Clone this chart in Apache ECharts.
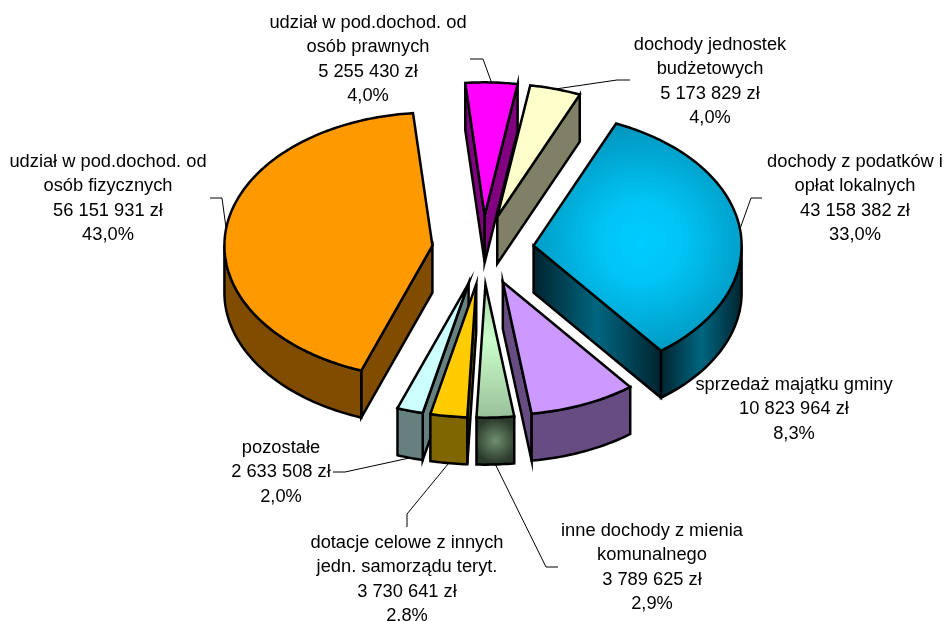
<!DOCTYPE html>
<html>
<head>
<meta charset="utf-8">
<style>
  html, body { margin: 0; padding: 0; background: #fff; overflow: hidden; }
  #chart { width: 944px; height: 621px; }
</style>
<script src="https://cdn.jsdelivr.net/npm/echarts@6/dist/echarts.min.js"></script>
</head>
<body>
<div id="chart"></div>
<script>
// slices, clockwise from the start angle
const names = [
  'udział w pod.dochod. od\nosób fizycznych',
  'udział w pod.dochod. od\nosób prawnych',
  'dochody jednostek\nbudżetowych',
  'dochody z podatków i\nopłat lokalnych',
  'sprzedaż majątku gminy',
  'inne dochody z mienia\nkomunalnego',
  'dotacje celowe z innych\njedn. samorządu teryt.',
  'pozostałe'
];
const values = [56151931, 5255430, 5173829, 43158382, 10823964, 3789625, 3730641, 2633508];
const percents = ['43,0%', '4,0%', '4,0%', '33,0%', '8,3%', '2,9%', '2,8%', '2,0%'];

const topColors = ['#ff9900', '#ff00ff', '#ffffcc', '#00ccff', '#cc99ff', '#ccffcc', '#ffcc00', '#ccffff'];
const sideColors = ['#804c00', '#800080', '#808066', '#006680', '#664c80', '#668066', '#806600', '#668080'];

// pie geometry
const cx = 483, cy = 250, rx = 208, ry = 133, depth = 47, explode = 51, explodeTilt = 0.68;
const startAngle = 200;
const drawOrder = [1, 2, 0, 3, 4, 7, 6, 5];

// label anchors: text centre + top, then the bend points of the leader line
const labelPos = [
  { x: 108, y: 150, line: [[222, 198], [210, 198]] },
  { x: 368, y: 11, line: [[483, 59], [470, 59]] },
  { x: 710, y: 33, line: [[617, 80], [630, 80]] },
  { x: 855, y: 150, line: [[751, 198], [762, 198]] },
  { x: 794, y: 373, line: null },
  { x: 652, y: 519, line: [[546, 567], [558, 567]] },
  { x: 407, y: 531, line: [[407, 514], [407, 527]] },
  { x: 281, y: 436, line: [[345, 472], [333, 472]] }
];

const total = values.reduce((a, b) => a + b, 0);
const rad = d => d * Math.PI / 180;

// each slice's angular span and exploded apex
let acc = startAngle;
const slices = values.map(v => {
  const a0 = acc, a1 = acc + v / total * 360;
  acc = a1;
  const mid = (a0 + a1) / 2;
  return {
    a0, a1, mid,
    ox: cx + explode * Math.sin(rad(mid)),
    oy: cy - explode * Math.cos(rad(mid)) * explodeTilt
  };
});

function rim(s, a) {
  return [s.ox + rx * Math.sin(rad(a)), s.oy - ry * Math.cos(rad(a))];
}

function arcPoints(s, a0, a1) {
  const pts = [];
  const n = Math.max(2, Math.ceil(a1 - a0));
  for (let i = 0; i <= n; i++) pts.push(rim(s, a0 + (a1 - a0) * i / n));
  return pts;
}

function wallFill(i) {
  if (i === 3) {
    return new echarts.graphic.LinearGradient(0, 0, 1, 0, [
      { offset: 0, color: '#00222d' },
      { offset: 0.5, color: '#006680' },
      { offset: 1, color: '#00222d' }
    ]);
  }
  if (i === 5) {
    return new echarts.graphic.RadialGradient(0.5, 0.5, 0.55, [
      { offset: 0, color: '#6f8f6f' },
      { offset: 1, color: '#2b3a2b' }
    ]);
  }
  return sideColors[i];
}

function topFill(i) {
  if (i === 3) {
    return new echarts.graphic.RadialGradient(0.52, 0.52, 0.56, [
      { offset: 0, color: '#00ccff' },
      { offset: 0.35, color: '#00c4f5' },
      { offset: 1, color: '#0096bd' }
    ]);
  }
  if (i === 5) {
    return new echarts.graphic.LinearGradient(0, 0, 0, 1, [
      { offset: 0, color: '#a6cfa6' },
      { offset: 0.4, color: '#ccffcc' },
      { offset: 1, color: '#98bf98' }
    ]);
  }
  return topColors[i];
}

const lineStyle = { stroke: '#000', lineWidth: 2.5, lineJoin: 'miter', miterLimit: 12 };

function drop(pts) {
  return pts.concat(pts.slice().reverse().map(p => [p[0], p[1] + depth]));
}

function renderSlice(params, api) {
  const i = api.value(0);
  const s = slices[i];
  const apex = [s.ox, s.oy];
  const p0 = rim(s, s.a0), p1 = rim(s, s.a1);
  const children = [];
  const wall = pts => children.push({
    type: 'polygon',
    shape: { points: drop(pts) },
    style: Object.assign({ fill: wallFill(i) }, lineStyle)
  });

  // only the walls facing the viewer
  if (p0[0] < apex[0]) wall([apex, p0]);
  if (p1[0] > apex[0]) wall([p1, apex]);
  for (const turn of [0, 360]) {
    const from = Math.max(s.a0, 90 + turn), to = Math.min(s.a1, 270 + turn);
    if (to > from) wall(arcPoints(s, from, to));
  }

  children.push({
    type: 'polygon',
    shape: { points: [apex].concat(arcPoints(s, s.a0, s.a1)) },
    style: Object.assign({ fill: topFill(i) }, lineStyle)
  });
  return { type: 'group', children };
}

function formatValue(v) {
  return String(v).replace(/\B(?=(\d{3})+$)/g, ' ') + ' zł';
}

function renderLabel(params, api) {
  const i = api.value(0);
  const s = slices[i];
  const pos = labelPos[i];
  const children = [];
  if (pos.line) {
    const onFront = Math.cos(rad(s.mid)) < 0;
    const p = rim(s, s.mid);
    const start = [p[0], p[1] + (onFront ? depth : 0)];
    children.push({
      type: 'polyline',
      shape: { points: [start].concat(pos.line) },
      style: { stroke: '#000', lineWidth: 1, fill: null }
    });
  }
  children.push({
    type: 'text',
    x: pos.x,
    y: pos.y,
    style: {
      text: [names[i], formatValue(values[i]), percents[i]].join('\n'),
      fontFamily: '"Liberation Sans", Arial, sans-serif',
      fontSize: 18.3,
      lineHeight: 24.3,
      fill: '#000',
      align: 'center',
      verticalAlign: 'top'
    }
  });
  return { type: 'group', children };
}

const chart = echarts.init(document.getElementById('chart'), null, { renderer: 'canvas' });
chart.setOption({
  animation: false,
  backgroundColor: '#fff',
  tooltip: { show: false },
  series: [
    {
      type: 'custom',
      coordinateSystem: 'none',
      silent: true,
      renderItem: renderSlice,
      data: drawOrder.map(i => [i])
    },
    {
      type: 'custom',
      coordinateSystem: 'none',
      silent: true,
      z: 5,
      renderItem: renderLabel,
      data: values.map((v, i) => [i])
    }
  ]
});
</script>
</body>
</html>
